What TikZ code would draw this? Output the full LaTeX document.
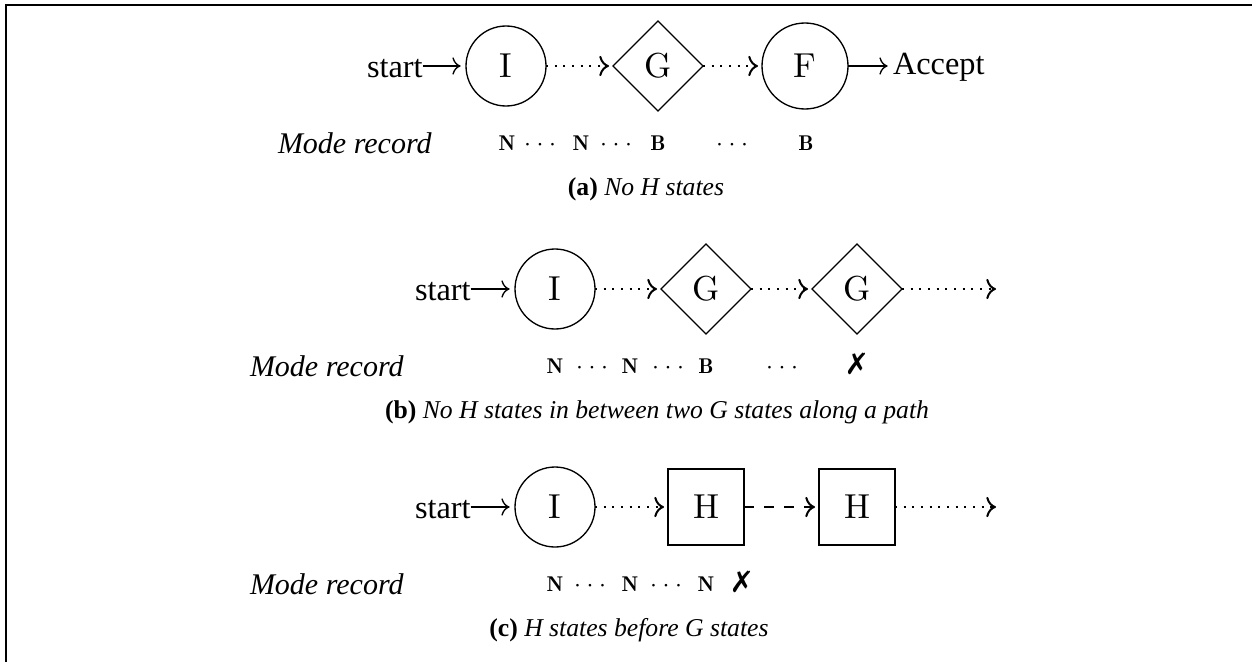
\documentclass[tikz,border=0pt]{standalone}
\usepackage{fontspec}
\setmainfont{Liberation Serif}
\newfontfamily\markfont{DejaVu Sans}
\newcommand\cmstyle{\fontfamily{lmr}\selectfont}
\usetikzlibrary{shapes.geometric,arrows.meta}

\begin{document}
\begin{tikzpicture}[x=0.3pt,y=-0.3pt,
  every node/.style={inner sep=0pt, outer sep=0pt},
  plaintext/.style={font=\fontsize{9.7}{11}\selectfont, anchor=base west},
  modetext/.style={font=\fontsize{9}{11}\selectfont\itshape, anchor=base west},
  captext/.style={font=\fontsize{7.7}{9}\selectfont, anchor=base},
  rec/.style={font=\fontsize{6.4}{7}\selectfont\cmstyle\bfseries, anchor=base},
  recdots/.style={font=\fontsize{7.4}{8}\selectfont, anchor=base},
  xmark/.style={font=\fontsize{8.8}{10}\selectfont\markfont\bfseries, anchor=base},
  circ/.style={draw, circle, minimum size=24pt, font=\fontsize{10.4}{12}\selectfont\cmstyle},
  dia/.style={draw, diamond, minimum width=27pt, minimum height=27pt, font=\fontsize{10.4}{12}\selectfont\cmstyle},
  statebox/.style={draw, rectangle, minimum size=22.8pt, font=\fontsize{10.4}{12}\selectfont\cmstyle},
  solidarr/.style={->, line width=0.4pt, shorten >=1.6pt},
  dotarr/.style={->, dotted, semithick, shorten >=1.2pt},
  dasharr/.style={->, dashed, semithick, shorten >=1.2pt},
]
\useasboundingbox (0,0) rectangle (1252,662);

% frame
\coordinate (fbl) at (6,662);
\coordinate (ftl) at (6,5);
\coordinate (ftr) at (1252,5);
\draw[line width=0.6pt] (fbl) -- (ftl) -- (ftr);

% (a) no H states
\node[plaintext] (sa) at (367,77) {start};
\node[circ] (Ia) at (506,66) {I};
\node[dia] (Ga) at (658,66) {G};
\node[circ, minimum size=25.8pt] (Fa) at (805,66) {F};
\node[plaintext] (acc) at (893,75) {Accept};
\draw[solidarr] (sa.east |- Ia) -- (Ia);
\draw[dotarr] (Ia) -- (Ga);
\draw[dotarr] (Ga) -- (Fa);
\draw[solidarr] (Fa) -- (acc.west |- Fa);

\node[modetext] (ma) at (278,153) {Mode record};
\node[rec] (ra1) at (507,150) {N};
\node[recdots] (ra2) at (540,150) {$\cdots$};
\node[rec] (ra3) at (581,150) {N};
\node[recdots] (ra4) at (616,150) {$\cdots$};
\node[rec] (ra5) at (658,150) {B};
\node[recdots] (ra6) at (732,150) {$\cdots$};
\node[rec] (ra7) at (806,150) {B};
\node[captext] (ca) at (646,195) {{\bfseries (a)} \textit{No H states}};

% (b) two G states with no H state between them
\node[plaintext] (sb) at (415,300) {start};
\node[circ] (Ib) at (555,289) {I};
\node[dia] (Gb1) at (706,289) {G};
\node[dia] (Gb2) at (857,289) {G};
\coordinate (eb) at (1000,289);
\draw[solidarr] (sb.east |- Ib) -- (Ib);
\draw[dotarr] (Ib) -- (Gb1);
\draw[dotarr] (Gb1) -- (Gb2);
\draw[dotarr] (Gb2) -- (eb);

\node[modetext] (mb) at (250,376) {Mode record};
\node[rec] (rb1) at (555,373) {N};
\node[recdots] (rb2) at (592,373) {$\cdots$};
\node[rec] (rb3) at (630,373) {N};
\node[recdots] (rb4) at (668,373) {$\cdots$};
\node[rec] (rb5) at (706,373) {B};
\node[recdots] (rb6) at (782,373) {$\cdots$};
\node[xmark] (rb7) at (857,374) {✗};
\node[captext] (cb) at (657,418) {{\bfseries (b)} \textit{No H states in between two G states along a path}};

% (c) H states reached before any G state
\node[plaintext] (sc) at (415,518) {start};
\node[circ] (Ic) at (555,507) {I};
\node[statebox] (Hc1) at (706,507) {H};
\node[statebox] (Hc2) at (857,507) {H};
\coordinate (ec) at (1000,507);
\draw[solidarr] (sc.east |- Ic) -- (Ic);
\draw[dotarr] (Ic) -- (Hc1);
\draw[dasharr] (Hc1) -- (Hc2);
\draw[dotarr] (Hc2) -- (ec);

\node[modetext] (mc) at (250,594) {Mode record};
\node[rec] (rc1) at (555,591) {N};
\node[recdots] (rc2) at (590,591) {$\cdots$};
\node[rec] (rc3) at (630,591) {N};
\node[recdots] (rc4) at (666,591) {$\cdots$};
\node[rec] (rc5) at (706,591) {N};
\node[xmark] (rc6) at (742,592) {✗};
\node[captext] (cc) at (629,636) {{\bfseries (c)} \textit{H states before G states}};
\end{tikzpicture}
\end{document}
